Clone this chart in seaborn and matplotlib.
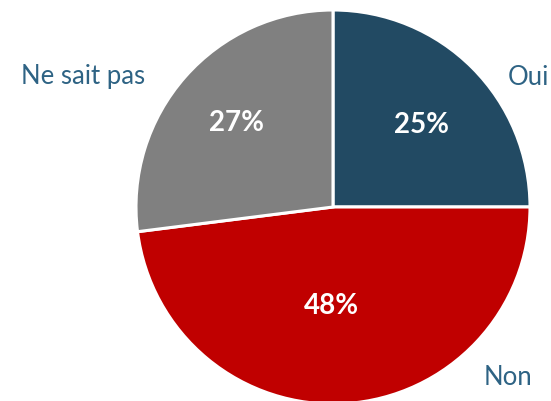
import matplotlib
matplotlib.use("Agg")
import matplotlib.pyplot as plt
import seaborn as sns

# data
categories = ["Oui", "Non", "Ne sait pas"]
shares = [25, 48, 27]
colors = ["#224a63", "#c00000", "#808080"]

sns.set_theme(style="white")
plt.rcParams['font.family'] = ['Lato', 'DejaVu Sans']

fig = plt.figure(figsize=(5.51, 4.02), dpi=100)
# pie centre ~ (333, 208) px, radius ~197 px
ax = fig.add_axes([136 / 551, (402 - 208 - 197) / 402, 394 / 551, 394 / 402])

wedges, texts, autotexts = ax.pie(
    shares, labels=categories, colors=colors, startangle=90, counterclock=False,
    autopct='%1.0f%%', pctdistance=0.62, labeldistance=1.15,
    wedgeprops=dict(edgecolor='white', linewidth=2.2),
    textprops=dict(fontsize=18.5, color='#2e6384'))

# label spots (axes units of the pie, radius = 1)
label_pos = [(0.99, 0.66), (0.89, -0.86), (-1.27, 0.67)]
for t, (x, y) in zip(texts, label_pos):
    t.set_position((x, y))
    t.set_ha('center')
    t.set_va('center')

for t in autotexts:
    t.set_color('white')
    t.set_fontsize(20)
    t.set_fontweight('bold')
autotexts[0].set_position((0.45, 0.42))
autotexts[1].set_position((-0.01, -0.50))
autotexts[2].set_position((-0.49, 0.43))

ax.set_xlim(-1, 1)
ax.set_ylim(-1, 1)
ax.set_aspect('equal')
ax.axis('off')

fig.savefig("out.png", dpi=100)
